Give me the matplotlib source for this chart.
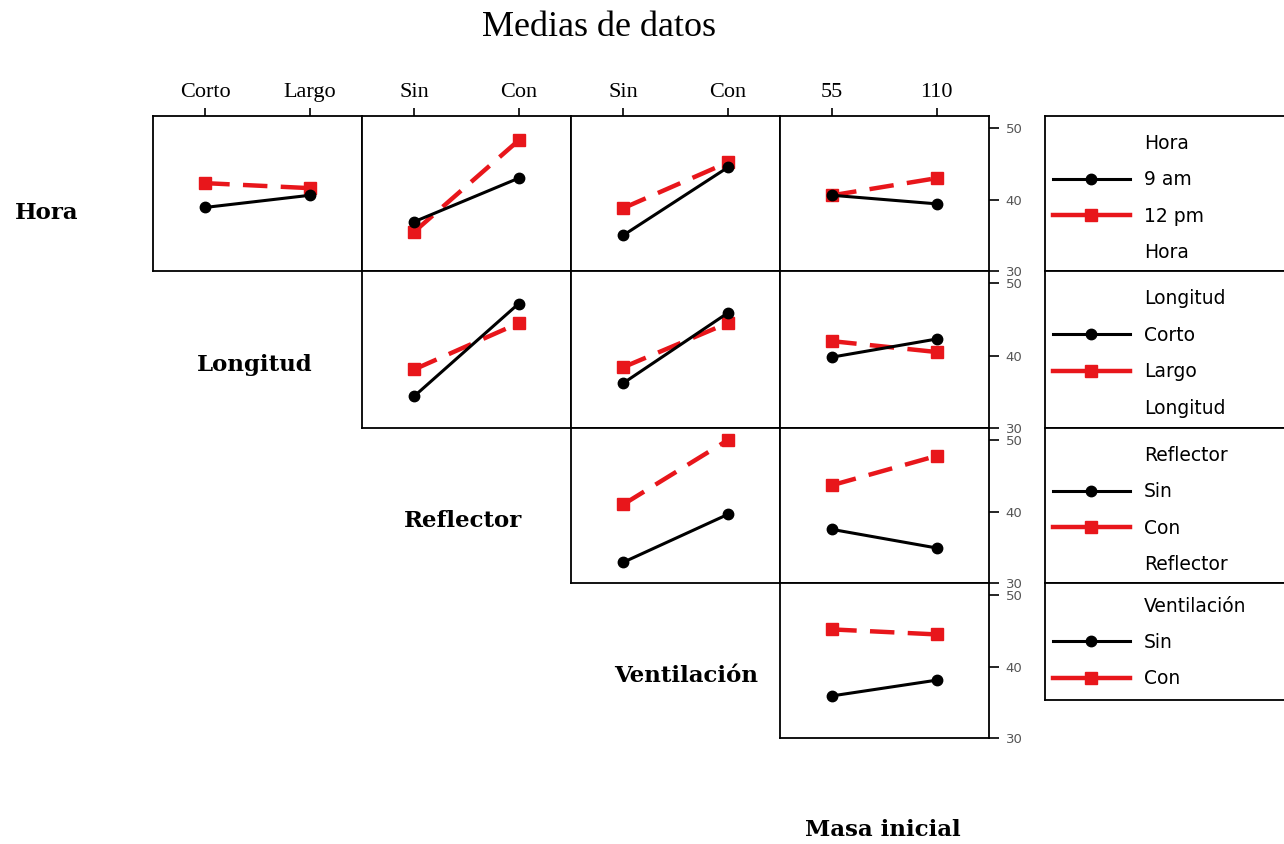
import matplotlib.pyplot as plt
from matplotlib.lines import Line2D

# factores y niveles
factores_x = ['Longitud', 'Reflector', 'Ventilación', 'Masa inicial']
niveles_x = [['Corto', 'Largo'], ['Sin', 'Con'], ['Sin', 'Con'], ['55', '110']]
factores_traza = ['Hora', 'Longitud', 'Reflector', 'Ventilación']
niveles_traza = [['9 am', '12 pm'], ['Corto', 'Largo'], ['Sin', 'Con'], ['Sin', 'Con']]

# medias (nivel 1 de la traza, nivel 2 de la traza)
hora_longitud = ([38.9, 40.6], [42.3, 41.6])
hora_reflector = ([36.9, 43.0], [35.5, 48.3])
hora_ventilacion = ([35.0, 44.5], [38.8, 45.2])
hora_masa = ([40.6, 39.4], [40.6, 43.0])
longitud_reflector = ([34.4, 47.2], [38.1, 44.5])
longitud_ventilacion = ([36.2, 45.9], [38.4, 44.5])
longitud_masa = ([39.8, 42.3], [42.0, 40.5])
reflector_ventilacion = ([32.9, 39.6], [41.0, 50.0])
reflector_masa = ([37.5, 34.9], [43.7, 47.8])
ventilacion_masa = ([35.9, 38.1], [45.2, 44.5])

medias = {
    (0, 0): hora_longitud, (0, 1): hora_reflector,
    (0, 2): hora_ventilacion, (0, 3): hora_masa,
    (1, 1): longitud_reflector, (1, 2): longitud_ventilacion, (1, 3): longitud_masa,
    (2, 2): reflector_ventilacion, (2, 3): reflector_masa,
    (3, 3): ventilacion_masa,
}

W, H = 1284, 844
col_izq = [153, 362, 571, 780]
ancho = 209
fila_sup = [116, 271, 428, 583]
fila_inf = [271, 428, 583, 738]

estilo_1 = dict(color='black', lw=2.2, marker='o', ms=7.5)
estilo_2 = dict(color='#e8161b', lw=3.2, ls='--', dashes=(5.5, 3), marker='s', ms=8)

fig = plt.figure(figsize=(W / 100, H / 100), dpi=100)

def caja(x0, y0, x1, y1):
    return [x0 / W, 1 - y1 / H, (x1 - x0) / W, (y1 - y0) / H]

for (i, j), (m1, m2) in medias.items():
    ax = fig.add_axes(caja(col_izq[j], fila_sup[i], col_izq[j] + ancho, fila_inf[i]))
    ax.plot([0, 1], m1, **estilo_1, zorder=3)
    ax.plot([0, 1], m2, **estilo_2, zorder=2)
    ax.set_xlim(-0.5, 1.5)
    ax.set_ylim(30, 51.7)
    for s in ax.spines.values():
        s.set_linewidth(1.3)
    if i == 0:
        ax.xaxis.tick_top()
        ax.set_xticks([0, 1], niveles_x[j], fontfamily='Liberation Serif', fontsize=16)
        ax.tick_params(axis='x', direction='out', length=6, width=1.2, pad=4)
    else:
        ax.set_xticks([])
    if j == 3:
        ax.yaxis.tick_right()
        ax.set_yticks([30, 40, 50])
        ax.tick_params(axis='y', direction='out', length=7, width=1.2,
                       labelsize=9.5, labelcolor='#555555', pad=5)
    else:
        ax.set_yticks([])

# etiquetas de los factores
fuente_fac = dict(fontfamily='DejaVu Serif', fontweight='bold', fontsize=16.5,
                  ha='center', va='center')
pos_fac = [(47, 213), (255, 365), (463, 521), (686, 676), (883, 830)]
for nombre, (x, y) in zip(factores_traza + ['Masa inicial'], pos_fac):
    fig.text(x / W, 1 - y / H, nombre, **fuente_fac)

fig.text(599 / W, 1 - 27 / H, 'Medias de datos', fontfamily='Liberation Serif',
         fontsize=26, ha='center', va='center')

# leyendas
ley_sup = [116, 271, 428, 583]
ley_inf = [271, 428, 583, 700]
for k in range(4):
    lax = fig.add_axes(caja(1045, ley_sup[k], 1300, ley_inf[k]))
    lax.set_xticks([])
    lax.set_yticks([])
    for s in lax.spines.values():
        s.set_linewidth(1.3)
    vacio = Line2D([], [], ls='none')
    h1 = Line2D([], [], **estilo_1)
    h2 = Line2D([], [], color='#e8161b', lw=3.2, ls='-', marker='s', ms=8)
    handles = [vacio, h1, h2]
    labels = [factores_traza[k]] + niveles_traza[k]
    if k < 3:
        handles.append(vacio)
        labels.append(factores_traza[k])
    lax.legend(handles, labels, loc='upper left', bbox_to_anchor=(8 / 255, 1 - 18 / 155),
               frameon=False, borderpad=0, borderaxespad=0,
               labelspacing=0.93, handlelength=4.1, handletextpad=0.75,
               numpoints=1, prop={'family': 'DejaVu Sans', 'size': 13.5})

fig.savefig('out.png', dpi=100)
